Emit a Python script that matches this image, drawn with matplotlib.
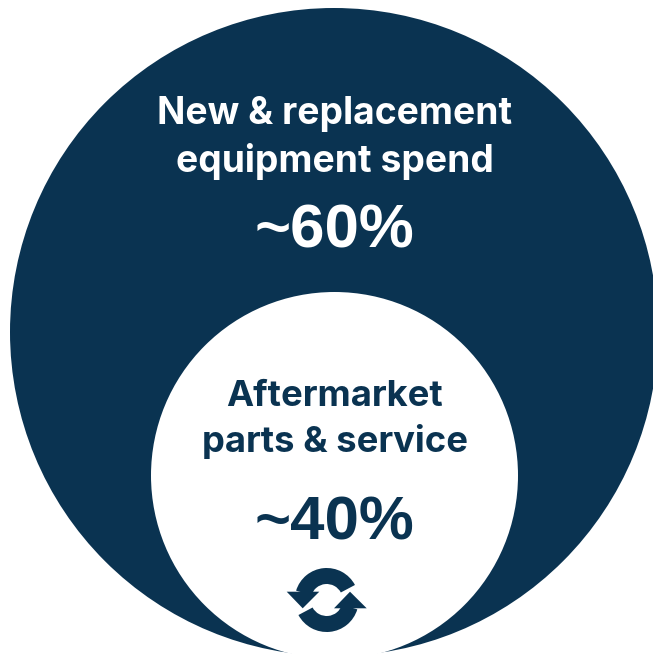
from matplotlib import pyplot as plt
from matplotlib.patches import Circle, Wedge, Polygon

navy = "#0a3351"

segments = ["New & replacement\nequipment spend", "Aftermarket\nparts & service"]
shares = [60, 40]

fig = plt.figure(figsize=(6.53, 6.56), dpi=100)
ax = fig.add_axes([0, 0, 1, 1])
ax.set_xlim(0, 653)
ax.set_ylim(656, 0)
ax.axis("off")

# nested circles
ax.add_patch(Circle((334, 332), 324, fc=navy, ec="none"))
ax.add_patch(Circle((334.5, 475.5), 183.5, fc="white", ec="none"))

# labels, one block per segment
ax.text(334.5, 138, segments[0], color="white", ha="center", va="center",
        family="Inter", weight="bold", fontsize=26.8, linespacing=1.39)
ax.text(334, 232, f"~{shares[0]}%", color="white", ha="center", va="center",
        family="Liberation Sans", weight="bold", fontsize=44.5)
ax.text(334.5, 419.5, segments[1], color=navy, ha="center", va="center",
        family="Inter", weight="bold", fontsize=26.2, linespacing=1.42)
ax.text(334, 524, f"~{shares[1]}%", color=navy, ha="center", va="center",
        family="Liberation Sans", weight="bold", fontsize=44.5)

# refresh icon under the aftermarket share
ax.add_patch(Wedge((326.7, 600), 32, 197, 332, width=16, fc=navy, ec="none"))
ax.add_patch(Wedge((326.7, 600), 32, 17, 152, width=16, fc=navy, ec="none"))
ax.add_patch(Polygon([(286.7, 591.7), (319.3, 591.7), (302.7, 608.3)], fc=navy, ec="none"))
ax.add_patch(Polygon([(334, 608.3), (366.7, 608.3), (350, 591.7)], fc=navy, ec="none"))

fig.savefig("out.png", dpi=100)
